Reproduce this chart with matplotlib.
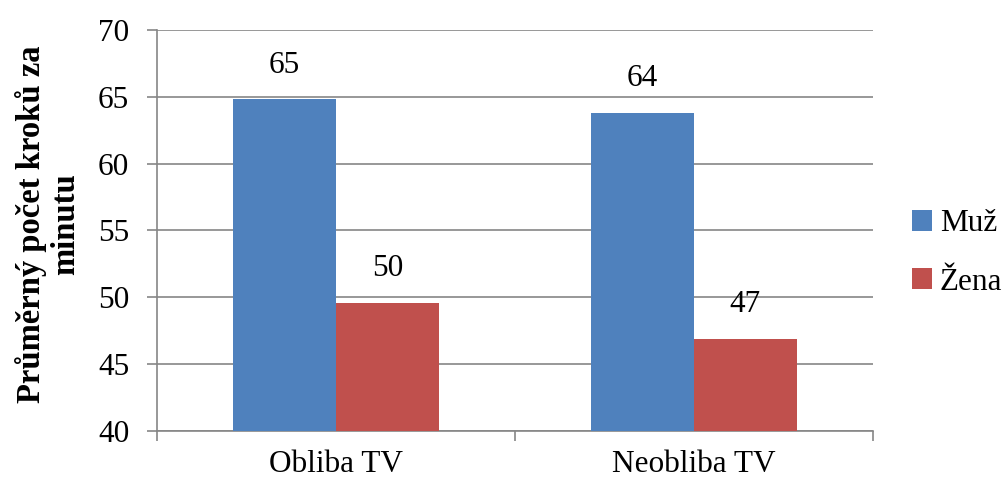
import matplotlib
matplotlib.use("Agg")
import matplotlib.pyplot as plt
import numpy as np

plt.rcParams['font.family'] = ['Liberation Serif', 'DejaVu Serif']

categories = ['Obliba TV', 'Neobliba TV']
series = ['Muž', 'Žena']
muz = [64.8, 63.8]
zena = [49.6, 46.9]
colors = ['#4F81BD', '#C0504D']

fig = plt.figure(figsize=(10.04, 4.82), dpi=100)
ax = fig.add_axes([0.1564, 0.1058, 0.7131, 0.8320])

x = np.arange(len(categories))
w = 0.287
fs = 22.5

for i, (vals, name) in enumerate(zip([muz, zena], series)):
    bars = ax.bar(x + (i - 0.5) * w, vals, width=w, bottom=0, color=colors[i],
                  label=name, zorder=3)
    for b, v in zip(bars, vals):
        ax.annotate(f'{v:.0f}', (b.get_x() + b.get_width() / 2, v),
                    xytext=(0, 14), textcoords='offset points',
                    ha='center', va='bottom', fontsize=fs)

ax.set_ylim(40, 70)
ax.set_yticks(np.arange(40, 71, 5))
ax.set_xlim(-0.5, 1.5)
ax.set_xticks(x)
ax.set_xticklabels(categories)
ax.set_xticks([-0.5, 0.5, 1.5], minor=True)

grid_c = '#868686'
ax.yaxis.grid(True, color=grid_c, linewidth=1.2, zorder=0)
for s in ['top', 'right']:
    ax.spines[s].set_visible(False)
for s in ['left', 'bottom']:
    ax.spines[s].set_color(grid_c)
    ax.spines[s].set_linewidth(1.2)

ax.tick_params(axis='y', length=7, width=1.2, color=grid_c, pad=13, labelsize=fs)
ax.tick_params(axis='x', which='major', length=0, pad=14, labelsize=fs)
ax.tick_params(axis='x', which='minor', length=7, width=1.2, color=grid_c)

fig.text(0.048, 1 - 224 / 482, 'Průměrný počet kroků za\nminutu', rotation=90,
         ha='center', va='center', multialignment='center', linespacing=1.15,
         fontsize=23.5, fontweight='bold')

fig.legend(loc='center left', bbox_to_anchor=(0.908, 1 - 253 / 482),
           frameon=False, fontsize=fs, handlelength=0.65, handleheight=0.65,
           handletextpad=0.25, labelspacing=0.95, borderaxespad=0, borderpad=0)

fig.savefig('out.png', dpi=100)
